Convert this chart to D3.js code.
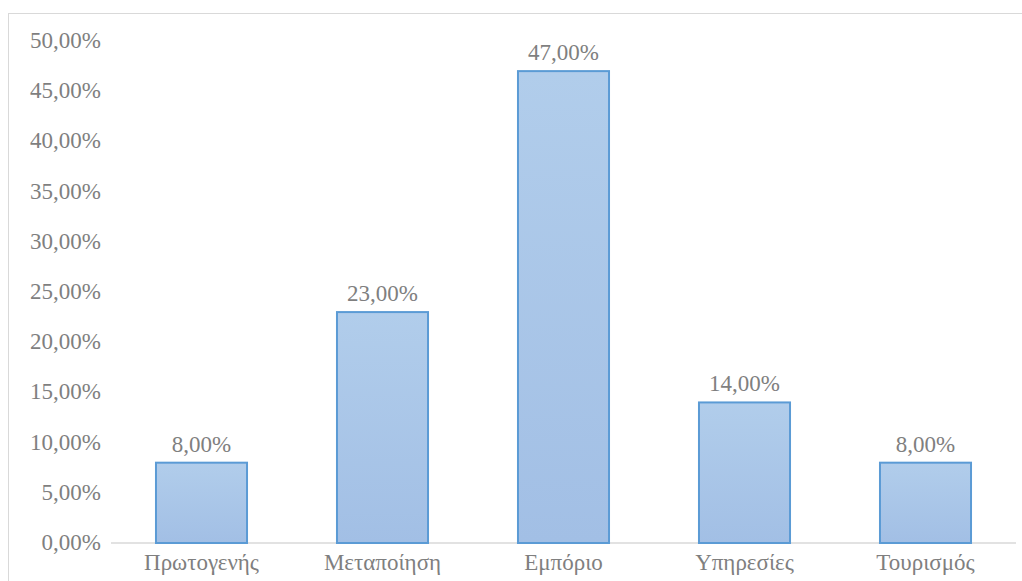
<!DOCTYPE html>
<html>
<head>
<meta charset="utf-8">
<script src="https://cdn.jsdelivr.net/npm/d3@7"></script>
</head>
<body style="margin:0">
<script>
// sector shares (percent)
var categories = ["Πρωτογενής", "Μεταποίηση", "Εμπόριο", "Υπηρεσίες", "Τουρισμός"];
var values = [8, 23, 47, 14, 8];
var yTicks = [0, 5, 10, 15, 20, 25, 30, 35, 40, 45, 50];

var W = 1022, H = 581;
var FONT = "'Liberation Serif'";
var TEXT_COLOR = "#7f7f7f";

var svg = d3.select("body").append("svg")
    .attr("width", W)
    .attr("height", H);

// outer chart frame
svg.append("rect")
    .attr("x", 8.5).attr("y", 13.5)
    .attr("width", W + 10).attr("height", H + 10)
    .attr("fill", "#fff")
    .attr("stroke", "#d9d9d9")
    .attr("stroke-width", 1);

var x = d3.scaleBand()
    .domain(categories)
    .range([111, 1016])
    .paddingInner(0.497)
    .paddingOuter(0.2485);

var y = d3.scaleLinear()
    .domain([0, 50])
    .range([543, 41]);

var fmt = function(v) { return v.toFixed(2).replace(".", ",") + "%"; };

var defs = svg.append("defs");
var grad = defs.append("linearGradient")
    .attr("id", "barFill")
    .attr("x1", 0).attr("y1", 0).attr("x2", 0).attr("y2", 1);
grad.append("stop").attr("offset", "0%").attr("stop-color", "#b1cdeb");
grad.append("stop").attr("offset", "100%").attr("stop-color", "#a2bfe5");

// y axis labels
svg.selectAll("text.ytick")
    .data(yTicks)
    .enter()
    .append("text")
    .attr("class", "ytick")
    .attr("x", 101)
    .attr("y", function(d) { return y(d); })
    .attr("dy", "0.3em")
    .attr("text-anchor", "end")
    .attr("fill", TEXT_COLOR)
    .style("font-family", FONT)
    .style("font-size", "23px")
    .text(fmt);

// baseline
svg.append("line")
    .attr("x1", 111).attr("x2", 1016)
    .attr("y1", y(0)).attr("y2", y(0))
    .attr("stroke", "#d9d9d9")
    .attr("stroke-width", 1.5);

// bars
svg.selectAll("rect.bar")
    .data(values)
    .enter()
    .append("rect")
    .attr("class", "bar")
    .attr("x", function(d, i) { return x(categories[i]); })
    .attr("y", function(d) { return y(d); })
    .attr("width", x.bandwidth())
    .attr("height", function(d) { return y(0) - y(d); })
    .attr("fill", "url(#barFill)")
    .attr("stroke", "#5b9bd5")
    .attr("stroke-width", 2);

// value labels
svg.selectAll("text.val")
    .data(values)
    .enter()
    .append("text")
    .attr("class", "val")
    .attr("x", function(d, i) { return x(categories[i]) + x.bandwidth() / 2; })
    .attr("y", function(d) { return y(d) - 11; })
    .attr("text-anchor", "middle")
    .attr("fill", TEXT_COLOR)
    .style("font-family", FONT)
    .style("font-size", "23px")
    .text(fmt);

// category labels
svg.selectAll("text.cat")
    .data(categories)
    .enter()
    .append("text")
    .attr("class", "cat")
    .attr("x", function(d) { return x(d) + x.bandwidth() / 2; })
    .attr("y", 570)
    .attr("text-anchor", "middle")
    .attr("fill", TEXT_COLOR)
    .style("font-family", FONT)
    .style("font-size", "23px")
    .text(function(d) { return d; });
</script>
</body>
</html>
